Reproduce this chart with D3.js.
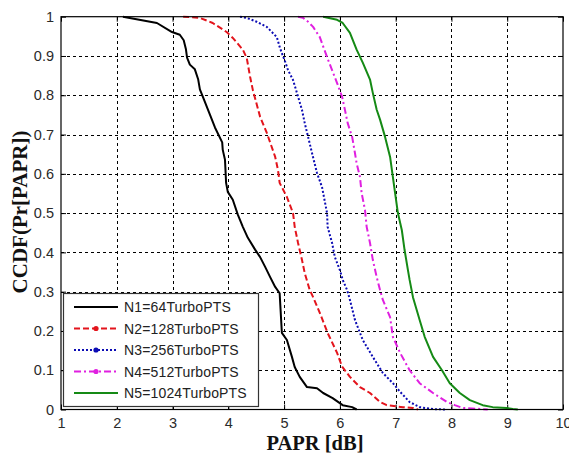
<!DOCTYPE html>
<html>
<head>
<meta charset="utf-8">
<script src="https://cdn.jsdelivr.net/npm/d3@7"></script>
<style>
  html, body { margin: 0; padding: 0; background: #fff; }
  svg { display: block; }
</style>
</head>
<body>
<svg id="chart" width="569" height="454"></svg>
<script>
// Tick labels
const xTicks = [1, 2, 3, 4, 5, 6, 7, 8, 9, 10];
const yTicks = [0, 0.1, 0.2, 0.3, 0.4, 0.5, 0.6, 0.7, 0.8, 0.9, 1];

// Series names
const seriesNames = ["N1=64TurboPTS", "N2=128TurboPTS", "N3=256TurboPTS", "N4=512TurboPTS", "N5=1024TurboPTS"];

// PAPR (dB) / CCDF values per subcarrier count
const papr1 = [2.11, 2.72, 2.99, 3.13, 3.20, 3.24, 3.26, 3.31, 3.40, 3.46, 3.49, 3.56, 3.67, 3.76, 3.89, 3.90, 3.94, 3.96, 3.99, 4.08, 4.17, 4.26, 4.35, 4.48, 4.57, 4.66, 4.75, 4.84, 4.92, 4.96, 5.05, 5.14, 5.19, 5.28, 5.41, 5.59, 5.70, 5.87, 6.05, 6.22, 6.30];
const ccdf1 = [1.0, 0.984, 0.961, 0.954, 0.94, 0.917, 0.896, 0.878, 0.866, 0.84, 0.815, 0.79, 0.751, 0.718, 0.68, 0.661, 0.636, 0.577, 0.554, 0.534, 0.496, 0.465, 0.437, 0.407, 0.388, 0.363, 0.337, 0.312, 0.296, 0.195, 0.177, 0.134, 0.108, 0.083, 0.057, 0.054, 0.042, 0.029, 0.011, 0.006, 0.0];

const papr2 = [3.19, 3.49, 3.72, 3.97, 4.08, 4.26, 4.33, 4.39, 4.44, 4.57, 4.69, 4.84, 4.89, 4.92, 5.05, 5.16, 5.19, 5.25, 5.32, 5.37, 5.46, 5.52, 5.64, 5.78, 5.95, 6.04, 6.18, 6.36, 6.54, 6.72, 6.84, 7.13, 7.31, 7.40];
const ccdf2 = [1.0, 0.997, 0.984, 0.961, 0.946, 0.916, 0.895, 0.847, 0.813, 0.745, 0.704, 0.643, 0.61, 0.577, 0.541, 0.5, 0.465, 0.424, 0.381, 0.347, 0.304, 0.286, 0.246, 0.195, 0.144, 0.109, 0.083, 0.057, 0.042, 0.019, 0.011, 0.006, 0.004, 0.0];

const papr3 = [4.21, 4.33, 4.51, 4.69, 4.87, 4.92, 4.96, 5.01, 5.07, 5.16, 5.23, 5.32, 5.37, 5.43, 5.50, 5.59, 5.68, 5.77, 5.78, 5.86, 5.91, 6.00, 6.05, 6.13, 6.18, 6.27, 6.41, 6.59, 6.77, 6.95, 7.08, 7.25, 7.43, 7.67, 7.92];
const ccdf3 = [1.0, 0.997, 0.987, 0.974, 0.948, 0.923, 0.907, 0.889, 0.864, 0.839, 0.806, 0.763, 0.729, 0.694, 0.653, 0.602, 0.566, 0.5, 0.465, 0.424, 0.388, 0.355, 0.33, 0.304, 0.279, 0.228, 0.177, 0.134, 0.093, 0.067, 0.045, 0.019, 0.006, 0.001, 0.0];

const papr4 = [5.25, 5.34, 5.43, 5.52, 5.64, 5.77, 5.86, 5.95, 6.04, 6.09, 6.14, 6.22, 6.27, 6.30, 6.36, 6.39, 6.45, 6.48, 6.54, 6.59, 6.66, 6.72, 6.77, 6.90, 6.95, 7.08, 7.25, 7.43, 7.67, 7.92, 8.06, 8.20, 8.56, 8.65];
const ccdf4 = [1.0, 0.997, 0.987, 0.974, 0.948, 0.897, 0.864, 0.831, 0.796, 0.763, 0.729, 0.694, 0.653, 0.627, 0.592, 0.551, 0.508, 0.465, 0.424, 0.381, 0.337, 0.304, 0.279, 0.235, 0.185, 0.144, 0.1, 0.067, 0.042, 0.019, 0.011, 0.004, 0.001, 0.0];

const papr5 = [5.70, 5.95, 6.05, 6.18, 6.30, 6.41, 6.54, 6.59, 6.66, 6.72, 6.81, 6.90, 6.99, 7.04, 7.11, 7.16, 7.22, 7.25, 7.31, 7.43, 7.52, 7.67, 7.83, 7.97, 8.15, 8.33, 8.56, 8.74, 8.99, 9.10, 9.19];
const ccdf5 = [1.0, 0.992, 0.984, 0.959, 0.916, 0.883, 0.84, 0.806, 0.763, 0.738, 0.694, 0.643, 0.551, 0.5, 0.457, 0.406, 0.355, 0.33, 0.286, 0.228, 0.185, 0.134, 0.1, 0.067, 0.042, 0.024, 0.011, 0.006, 0.004, 0.001, 0.0];

const paprs = [papr1, papr2, papr3, papr4, papr5];
const ccdfs = [ccdf1, ccdf2, ccdf3, ccdf4, ccdf5];

// Line styles per series
const colors = ["#000000", "#e3141c", "#0c0cb4", "#e020e0", "#158a15"];
const dashes = [null, "6,3", "2,2", "7,3,2,3", null];
const hasMarker = [false, true, true, true, false];

const svg = d3.select("#chart");
const mLeft = 61, mRight = 563, mTop = 16.7, mBottom = 409.5;

const x = d3.scaleLinear().domain([1, 10]).range([mLeft, mRight]);
const y = d3.scaleLinear().domain([0, 1]).range([mBottom, mTop]);

svg.append("rect").attr("width", 569).attr("height", 454).attr("fill", "#fff");

// Grid
const grid = svg.append("g").attr("stroke", "#000").attr("stroke-width", 1)
  .attr("stroke-dasharray", "3,3").attr("shape-rendering", "crispEdges");
xTicks.slice(1, -1).forEach(t => {
  grid.append("line").attr("x1", Math.round(x(t)) + 0.5).attr("x2", Math.round(x(t)) + 0.5)
    .attr("y1", mTop).attr("y2", mBottom);
});
yTicks.slice(1, -1).forEach(t => {
  grid.append("line").attr("y1", Math.round(y(t)) + 0.5).attr("y2", Math.round(y(t)) + 0.5)
    .attr("x1", mLeft).attr("x2", mRight);
});

// Axes with inward ticks
const fontTick = "Arial, 'Liberation Sans', sans-serif";
const xAxis = d3.axisBottom(x).tickValues(xTicks).tickFormat(d3.format("d")).tickSizeInner(-5).tickSizeOuter(0).tickPadding(8);
const yAxis = d3.axisLeft(y).tickValues(yTicks).tickFormat(d => d === 0 || d === 1 ? String(d) : d3.format(".1f")(d)).tickSizeInner(-5).tickSizeOuter(0).tickPadding(7);

const gx = svg.append("g").attr("transform", `translate(0,${mBottom})`).call(xAxis);
const gy = svg.append("g").attr("transform", `translate(${mLeft},0)`).call(yAxis);
const gxTop = svg.append("g").attr("transform", `translate(0,${mTop})`)
  .call(d3.axisTop(x).tickValues(xTicks).tickSizeInner(-5).tickSizeOuter(0).tickFormat(""));
const gyRight = svg.append("g").attr("transform", `translate(${mRight},0)`)
  .call(d3.axisRight(y).tickValues(yTicks).tickSizeInner(-5).tickSizeOuter(0).tickFormat(""));
[gx, gy, gxTop, gyRight].forEach(g => {
  g.select(".domain").remove();
  g.selectAll("line").attr("stroke", "#000");
  g.selectAll("text").attr("font-family", fontTick).attr("font-size", 14.5).attr("fill", "#2a2a2a");
});

// Curves
const line = d3.line().x(d => x(d[0])).y(d => y(d[1]));
const plot = svg.append("g");
paprs.forEach((p, i) => {
  const pts = p.map((v, j) => [v, ccdfs[i][j]]);
  plot.append("path").datum(pts).attr("d", line)
    .attr("fill", "none").attr("stroke", colors[i]).attr("stroke-width", 2)
    .attr("stroke-linejoin", "round")
    .attr("stroke-dasharray", dashes[i]);
});

// Plot frame
svg.append("rect").attr("x", mLeft).attr("y", mTop).attr("width", mRight - mLeft).attr("height", mBottom - mTop)
  .attr("fill", "none").attr("stroke", "#000").attr("stroke-width", 1.2);

// Legend
const lg = svg.append("g");
lg.append("rect").attr("x", 63.5).attr("y", 293.5).attr("width", 195).attr("height", 113)
  .attr("fill", "#fff").attr("stroke", "#333").attr("stroke-width", 1.2);
seriesNames.forEach((name, i) => {
  const yy = 307 + i * 21.5;
  lg.append("line").attr("x1", 74).attr("x2", 118).attr("y1", yy).attr("y2", yy)
    .attr("stroke", colors[i]).attr("stroke-width", 2).attr("stroke-dasharray", dashes[i]);
  if (hasMarker[i]) {
    lg.append("circle").attr("cx", 96).attr("cy", yy).attr("r", 2.6).attr("fill", colors[i]);
  }
  lg.append("text").attr("x", 124).attr("y", yy + 5).text(name)
    .attr("font-family", fontTick).attr("font-size", 14).attr("letter-spacing", 0.15).attr("fill", "#222");
});

// Axis titles
const fontTitle = "'Liberation Serif', 'Times New Roman', serif";
svg.append("text").attr("x", 315).attr("y", 450).attr("text-anchor", "middle")
  .attr("font-family", fontTitle).attr("font-weight", "bold").attr("font-size", 20.5).attr("fill", "#111")
  .text("PAPR [dB]");
svg.append("text").attr("transform", "translate(27,212) rotate(-90)").attr("text-anchor", "middle")
  .attr("font-family", fontTitle).attr("font-weight", "bold").attr("font-size", 21).attr("fill", "#111")
  .text("CCDF(Pr[PAPR])");
</script>
</body>
</html>
